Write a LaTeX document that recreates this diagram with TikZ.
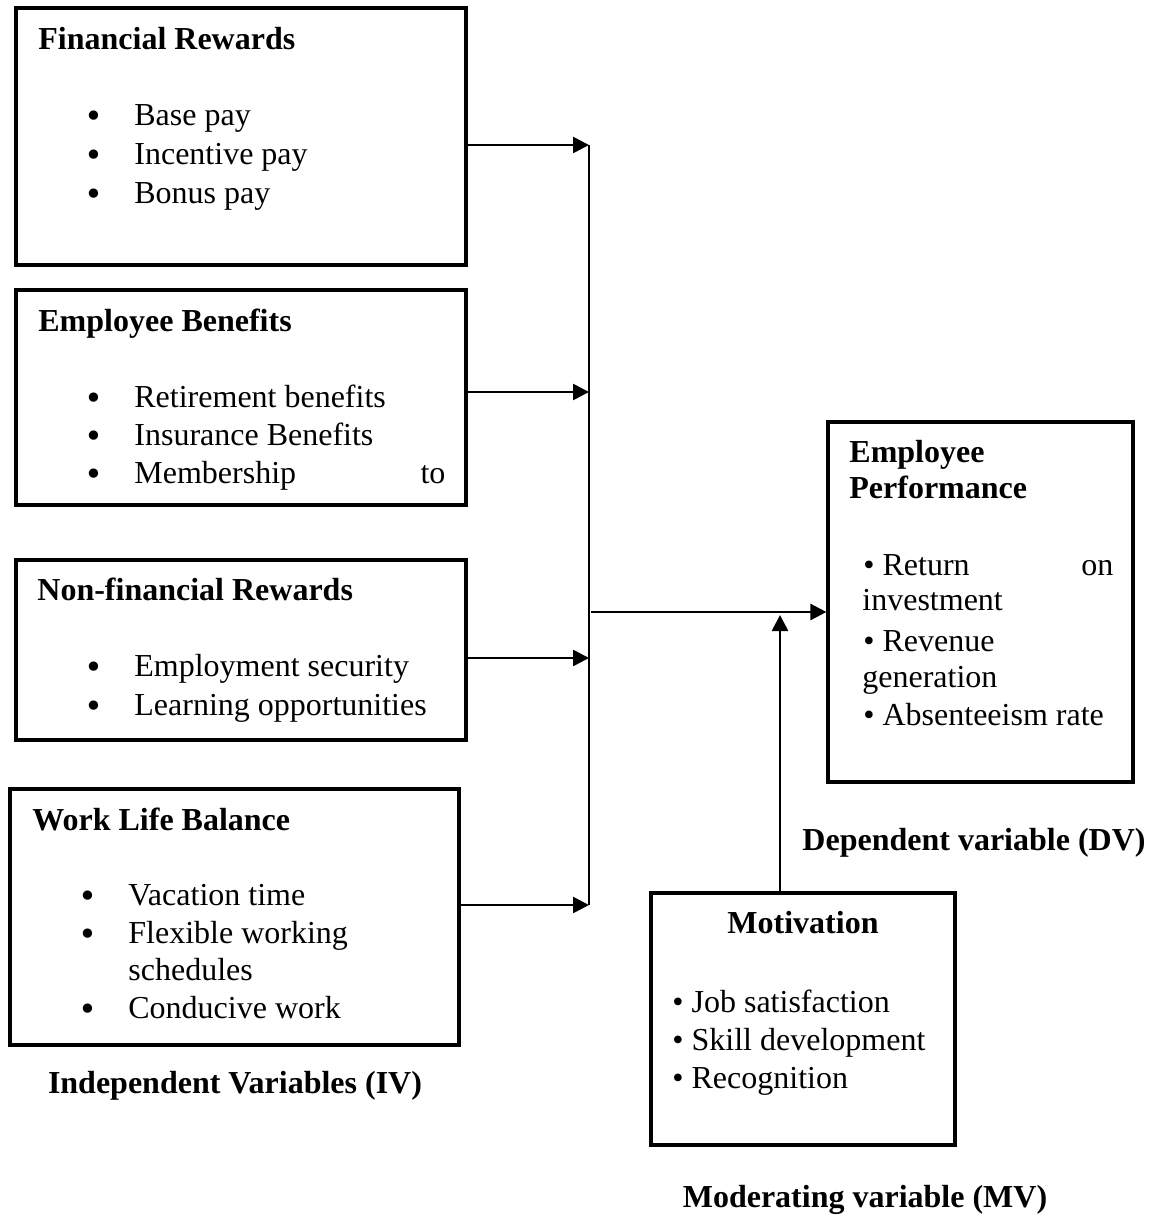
\documentclass[tikz,border=0pt]{standalone}
\usepackage{fontspec}
\setmainfont{Liberation Serif}
\newfontfamily\bulletfont{DejaVu Sans}
\usetikzlibrary{arrows.meta,fit}
\newcommand{\ivbullet}{\makebox[25pt][l]{\smash{\raisebox{-1.2pt}{\bulletfont •}}}}
\tikzset{
  box/.style={draw, line width=1.6pt, inner sep=0pt},
  txt/.style={anchor=base west, inner sep=0pt, font=\fontsize{16}{19.5}\selectfont},
  ttl/.style={txt, font=\fontsize{16}{19.5}\selectfont\bfseries},
  arr/.style={line width=1.3pt, -{Triangle[length=8pt,width=8pt]}},
}
\begin{document}
\begin{tikzpicture}[x=0.5pt, y=-0.5pt]
            \useasboundingbox (0,0) rectangle (1160,1215);

            \node[box, fit={(16,8) (466,265)}] (fin) {};
            \node[ttl] (finttl) at (38,49) {Financial Rewards};
            \node[txt] (fin1) at (84,125) {\ivbullet Base pay};
            \node[txt] (fin2) at (84,164) {\ivbullet Incentive pay};
            \node[txt] (fin3) at (84,203) {\ivbullet Bonus pay};

            \node[box, fit={(16,290) (466,505)}] (ben) {};
            \node[ttl] (benttl) at (38,331) {Employee Benefits};
            \node[txt] (ben1) at (84,407) {\ivbullet Retirement benefits};
            \node[txt] (ben2) at (84,445) {\ivbullet Insurance Benefits};
            \node[txt] (ben3) at (84,483) {\ivbullet \makebox[155.5pt][l]{Membership\hfill to}};

            \node[box, fit={(16,560) (466,740)}] (nfr) {};
            \node[ttl] (nfrttl) at (37,600) {Non-financial Rewards};
            \node[txt] (nfr1) at (84,676) {\ivbullet Employment security};
            \node[txt] (nfr2) at (84,715) {\ivbullet Learning opportunities};

            \node[box, fit={(10,789) (459,1045)}] (wlb) {};
            \node[ttl] (wlbttl) at (32,830) {Work Life Balance};
            \node[txt] (wlb1) at (78,905) {\ivbullet Vacation time};
            \node[txt] (wlb2) at (78,943) {\ivbullet Flexible working};
            \node[txt] (wlb3) at (128,980) {schedules};
            \node[txt] (wlb4) at (78,1018) {\ivbullet Conducive work};

            \node[box, fit={(828,422) (1133,782)}] (dv) {};
            \node[ttl] (dvttl1) at (849,462) {Employee};
            \node[ttl] (dvttl2) at (849,498) {Performance};
            \node[txt] (dv1) at (863,575) {\makebox[125pt][l]{\textbullet\ Return\hfill on}};
            \node[txt] (dv2) at (862,610) {investment};
            \node[txt] (dv3) at (863,651) {\textbullet\ Revenue};
            \node[txt] (dv4) at (862,687) {generation};
            \node[txt] (dv5) at (863,725) {\textbullet\ Absenteeism rate};

            \node[box, fit={(651,893) (955,1145)}] (mot) {};
            \node[ttl, anchor=base] (motttl) at (803,933) {Motivation};
            \node[txt] (mot1) at (672,1012) {\textbullet\ Job satisfaction};
            \node[txt] (mot2) at (672,1050) {\textbullet\ Skill development};
            \node[txt] (mot3) at (672,1088) {\textbullet\ Recognition};

            \node[ttl, anchor=base] (ivlbl) at (235,1093) {Independent Variables (IV)};
            \node[ttl, anchor=base] (dvlbl) at (974,850) {Dependent variable (DV)};
            \node[ttl, anchor=base] (mvlbl) at (865,1207) {Moderating variable (MV)};

            \coordinate (j1) at (589,145);
            \coordinate (j2) at (589,392);
            \coordinate (j3) at (589,658);
            \coordinate (j4) at (589,905);
            \coordinate (jout) at (591,612);
            \coordinate (mv) at (780,615);

            \draw[line width=0.9pt] (j1) -- (j4);
            \draw[arr] (fin.east |- j1) -- (j1);
            \draw[arr] (ben.east |- j2) -- (j2);
            \draw[arr] (nfr.east |- j3) -- (j3);
            \draw[arr] (wlb.east |- j4) -- (j4);
            \draw[arr] (jout) -- (dv.west |- jout);
            \draw[arr] (mot.north -| mv) -- (mv);
\end{tikzpicture}
\end{document}
